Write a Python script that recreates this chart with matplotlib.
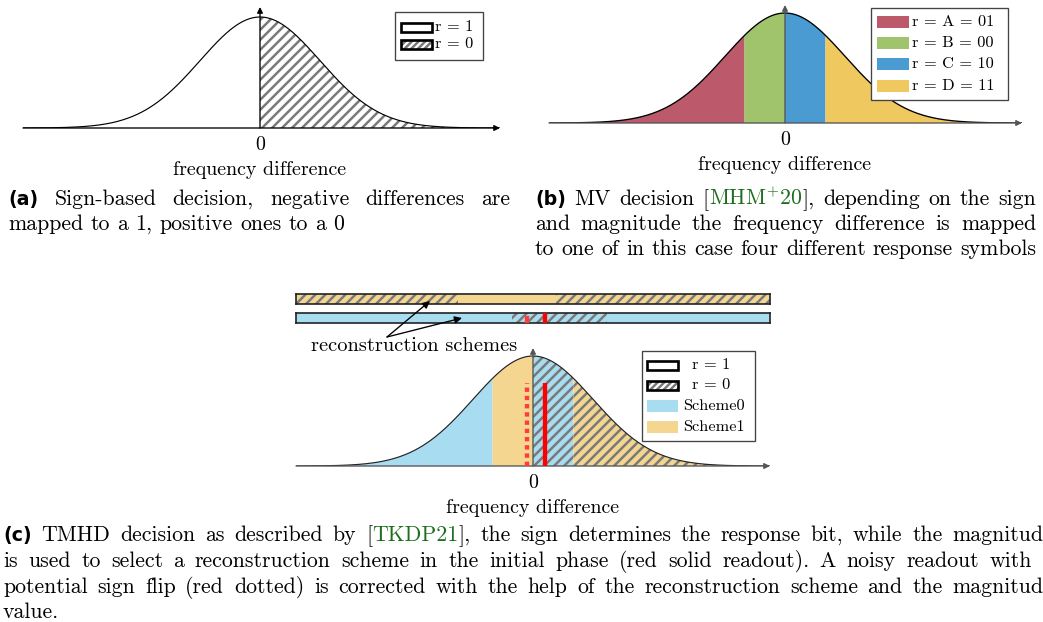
import numpy as np
import matplotlib
matplotlib.use('Agg')
import matplotlib.pyplot as plt
from matplotlib.patches import Rectangle, FancyArrowPatch

W, H, DPI = 1043, 622, 120
SIG_PX = 60          # one sigma of the bell curve, in pixels
FS = 12.0            # axis label size
CFS = 13.1           # caption size
LFS = 9.8            # legend size
GREEN = '#1f6e1f'
HATCH = '////'

plt.rcParams['mathtext.fontset'] = 'cm'
plt.rcParams['hatch.color'] = '#7a7a7a'
plt.rcParams['hatch.linewidth'] = 1.5

# ---- data ----
mv_edges = [-0.674, 0.0, 0.674]
mv_labels = ['r = A = 01', 'r = B = 00', 'r = C = 10', 'r = D = 11']
mv_colors = ['#bc5a6c', '#a0c46c', '#4a9bd2', '#f0c860']
scheme_names = ['Scheme0', 'Scheme1']
scheme_colors = ['#a8dcf0', '#f4d690']
# (start, end, scheme index, hatched) for the TMHD curve
tmhd_segments = [(-np.inf, -0.674, 0, False), (-0.674, 0.0, 1, False),
                 (0.0, 0.674, 0, True), (0.674, np.inf, 1, True)]
# reconstruction scheme bars: (start, end, hatched)
bar1_segments = [(-np.inf, -1.25, True), (-1.25, 0.38, False), (0.38, np.inf, True)]
bar2_segments = [(-np.inf, -0.35, False), (-0.35, 1.23, True), (1.23, np.inf, False)]
readout_solid = 0.2
readout_noisy = -0.1
readout_height = 0.755

# panel geometry in pixels: left, zero, right, baseline, peak, arrow top
GEOM = {'a': (23, 260, 500, 128, 17, 7),
        'b': (549, 785, 1022, 123, 13, 5),
        'c': (296, 533, 770, 466, 356, 348)}

fig = plt.figure(figsize=(W / DPI, H / DPI), dpi=DPI)
fig.patch.set_facecolor('white')


def fxy(x, y):
    return x / W, 1 - y / H


def bell_axes(key):
    left, zero, right, base, peak, top = GEOM[key]
    ax = fig.add_axes([left / W, 1 - base / H, (right - left) / W, (base - top) / H])
    xlo, xhi = (left - zero) / SIG_PX, (right - zero) / SIG_PX
    ytop = (base - top) / (base - peak)
    ax.set_xlim(xlo, xhi)
    ax.set_ylim(0, ytop)
    ax.axis('off')
    x = np.sort(np.concatenate([np.linspace(xlo, xhi, 900), mv_edges]))
    y = np.exp(-x ** 2 / 2)
    return ax, x, y, xlo, xhi, ytop, zero, base


def axis_arrows(ax, xlo, xhi, ytop, col='#333333'):
    kw = dict(arrowstyle='-|>', color=col, lw=0.8, mutation_scale=7, shrinkA=0, shrinkB=0)
    ax.annotate('', xy=(xhi, 0), xytext=(xlo, 0), arrowprops=kw, annotation_clip=False, zorder=5)
    ax.annotate('', xy=(0, ytop), xytext=(0, 0), arrowprops=kw, annotation_clip=False, zorder=5)


def axis_text(zero, base):
    fig.text(*fxy(zero, base + 17), '0', family='cmr10', size=FS, ha='center', va='center')
    fig.text(*fxy(zero, base + 42), 'frequency difference', family='cmr10', size=FS,
             ha='center', va='center')


# ---- (a) sign-based ----
ax, x, y, xlo, xhi, ytop, zero, base = bell_axes('a')
m = x >= 0
ax.fill_between(x[m], y[m], facecolor='white', hatch=HATCH, linewidth=0)
ax.plot(x, y, color='black', lw=0.7, zorder=4)
axis_arrows(ax, xlo, xhi, ytop, col='black')
axis_text(zero, base)

# ---- (b) MV ----
ax, x, y, xlo, xhi, ytop, zero, base = bell_axes('b')
bounds = [-np.inf] + mv_edges + [np.inf]
for i, c in enumerate(mv_colors):
    m = (x >= bounds[i]) & (x <= bounds[i + 1])
    ax.fill_between(x[m], y[m], facecolor=c, linewidth=0)
ax.plot(x, y, color='black', lw=0.8, zorder=4)
axis_arrows(ax, xlo, xhi, ytop, col='#555555')
axis_text(zero, base)

# ---- (c) TMHD ----
ax, x, y, xlo, xhi, ytop, zero, base = bell_axes('c')
for a, b, s, hat in tmhd_segments:
    m = (x >= a) & (x <= b)
    ax.fill_between(x[m], y[m], facecolor=scheme_colors[s], hatch=HATCH if hat else None,
                    linewidth=0)
ax.plot(x, y, color='#222222', lw=0.7, zorder=4)
ax.vlines(readout_solid, 0, readout_height, color='#ff0000', lw=2.6, zorder=6)
ax.vlines(readout_noisy, 0, readout_height, color='#ff3b3b', lw=2.6,
          linestyles=[(0, (1.0, 0.9))], zorder=6)
axis_arrows(ax, xlo, xhi, ytop, col='#555555')
axis_text(zero, base)

left, zero_c, right = GEOM['c'][:3]
for (ytop_b, ybot_b), segs, s in [((294, 304), bar1_segments, 1), ((313, 323), bar2_segments, 0)]:
    bx = fig.add_axes([left / W, 1 - ybot_b / H, (right - left) / W, (ybot_b - ytop_b) / H])
    bx.set_xlim(xlo, xhi)
    bx.set_ylim(0, 1)
    for a, b, hat in segs:
        bx.axvspan(max(a, xlo), min(b, xhi), facecolor=scheme_colors[s],
                   hatch=HATCH if hat else None, linewidth=0)
    bx.set_xticks([])
    bx.set_yticks([])
    for sp in bx.spines.values():
        sp.set_linewidth(1.0)
        sp.set_color('#222222')
    if s == 0:
        bx.axvline(readout_solid, color='#ff0000', lw=2.6, zorder=6)
        bx.axvline(readout_noisy, ymax=0.5, color='#ff3b3b', lw=2.6, zorder=6)

fig.text(*fxy(414, 351), 'reconstruction schemes', family='cmr10', size=FS * 1.02,
         ha='center', va='baseline')
for hx, hy in [(430, 301), (462, 318)]:
    fig.add_artist(FancyArrowPatch(fxy(387, 337), fxy(hx, hy), transform=fig.transFigure,
                                   arrowstyle='-|>', mutation_scale=9, lw=0.8,
                                   color='black', shrinkA=0, shrinkB=0))


# ---- legends (drawn in figure pixels) ----
def rect(x0, y0, x1, y1, **kw):
    fx0, fy1 = fxy(x0, y1)
    r = Rectangle((fx0, fy1), (x1 - x0) / W, (y1 - y0) / H, transform=fig.transFigure, **kw)
    fig.add_artist(r)
    return r


def legend_frame(box):
    rect(*box, facecolor='white', edgecolor='#444444', lw=0.8, zorder=10)


def r_handle(hx0, hx1, yc, hatched):
    h = 9
    rect(hx0, yc - h / 2, hx1, yc + h / 2, facecolor='white',
         hatch='//////' if hatched else None, linewidth=0, zorder=11)
    rect(hx0, yc - h / 2, hx1, yc + h / 2, fill=False, edgecolor='black', lw=1.6, zorder=12)


def color_handle(hx0, hx1, yc, col, h=12):
    rect(hx0, yc - h / 2, hx1, yc + h / 2, facecolor=col, linewidth=0, zorder=11)


def label(xp, yp, txt, ha='left'):
    fig.text(*fxy(xp, yp), txt, family='cmr10', size=LFS, ha=ha, va='center', zorder=13)


legend_frame((395, 12, 483, 60))
for yc, lab, hat in [(27, 'r = 1', False), (44, 'r = 0', True)]:
    r_handle(401, 432, yc, hat)
    label(435, yc, lab)

legend_frame((871, 8, 1008, 100))
for yc, lab, col in zip([22, 43, 64, 86], mv_labels, mv_colors):
    color_handle(877, 909, yc, col)
    label(912, yc, lab)

legend_frame((642, 351, 755, 441))
for yc, lab, hat in [(365, 'r = 1', False), (385, 'r = 0', True)]:
    r_handle(647, 678, yc, hat)
    label(711, yc, lab, ha='center')
for yc, lab, col in zip([406, 427], scheme_names, scheme_colors):
    color_handle(647, 678, yc, col)
    label(683, yc, lab)

# ---- captions ----
STYLES = {'rm': dict(family='cmr10', size=CFS),
          'bf': dict(family='DejaVu Sans', weight='bold', size=CFS * 0.87),
          'cite': dict(family='cmr10', size=CFS, color=GREEN)}
renderer = fig.canvas.get_renderer()


def words_of(items):
    out = []
    for it in items:
        if isinstance(it, str):
            out += [[(w, 'rm')] for w in it.split()]
        else:
            out.append(it)
    return out


def put_line(items, x0, yb, x1=None):
    words = words_of(items)
    placed, widths = [], []
    for word in words:
        arts, w = [], 0.0
        for txt, st in word:
            t = fig.text(0, 0, txt, ha='left', va='baseline', **STYLES[st])
            arts.append((t, w))
            w += t.get_window_extent(renderer=renderer).width
        placed.append(arts)
        widths.append(w)
    if x1 is None:
        gap = 0.333 * CFS * DPI / 72
    else:
        gap = (x1 - x0 - sum(widths)) / (len(words) - 1)
    xp = x0
    for arts, w in zip(placed, widths):
        for t, off in arts:
            t.set_position(fxy(xp + off, yb))
        xp += w + gap


put_line([[('(a)', 'bf')], 'Sign-based decision, negative differences are'], 8, 205, 510)
put_line(['mapped to a 1, positive ones to a 0'], 8, 230)

put_line([[('(b)', 'bf')], 'MV decision',
          [('[', 'rm'), (r'$\mathrm{MHM}^{+}\mathrm{20}$', 'cite'), ('],', 'rm')],
          'depending on the sign'], 535, 205, 1036)
put_line(['and magnitude the frequency difference is mapped'], 535, 230, 1036)
put_line(['to one of in this case four different response symbols'], 535, 255)

put_line([[('(c)', 'bf')], 'TMHD decision as described by',
          [('[', 'rm'), ('TKDP21', 'cite'), ('],', 'rm')],
          'the sign determines the response bit, while the magnitude'], 3, 541, 1053)
put_line(['is used to select a reconstruction scheme in the initial phase '
          '(red solid readout). A noisy readout with a'], 3, 567, 1053)
put_line(['potential sign flip (red dotted) is corrected with the help of the '
          'reconstruction scheme and the magnitude'], 3, 593, 1053)
put_line(['value.'], 3, 618)

fig.savefig('out.png', dpi=DPI, facecolor='white')
